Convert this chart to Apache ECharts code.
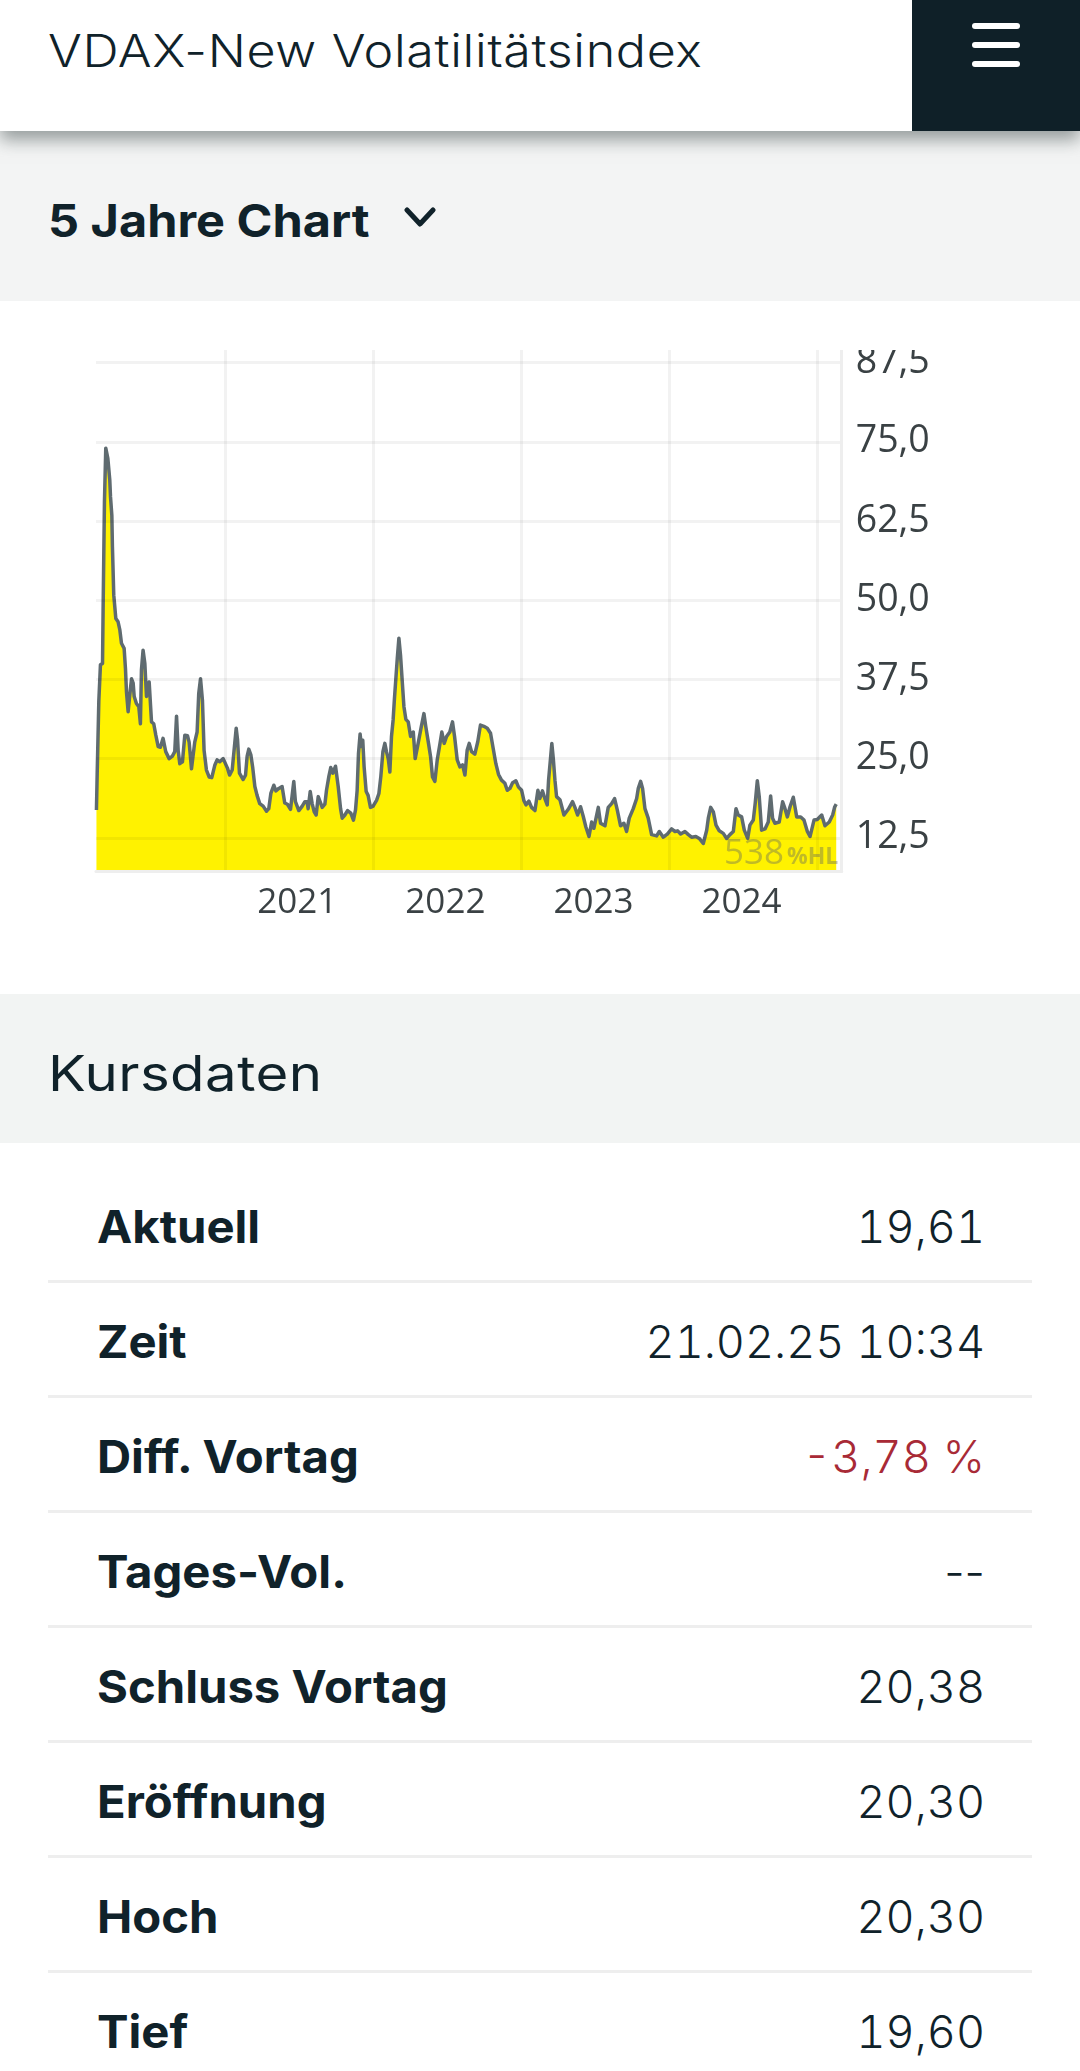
<!DOCTYPE html>
<html lang="de">
<head>
<meta charset="utf-8">
<title>VDAX-New Volatilitätsindex</title>
<script src="https://cdn.jsdelivr.net/npm/echarts@6/dist/echarts.min.js"></script>
<style>
html,body{margin:0;padding:0;background:#fff;}
body{width:1080px;height:2071px;position:relative;overflow:hidden;font-family:Inter,Lato,"Noto Sans",sans-serif;color:#10222a;}
.abs{position:absolute;white-space:nowrap;line-height:1;}
.sl{transform-origin:0 50%;}
#head{position:absolute;left:0;top:0;width:1080px;height:131px;background:#fff;z-index:3;box-shadow:0 9px 16px rgba(90,100,100,.6);}
#burger{position:absolute;left:912px;top:0;width:168px;height:131px;background:#0f2028;z-index:4;}
#burger i{position:absolute;left:60px;width:48px;height:6px;border-radius:3px;background:#fff;}
#band1{position:absolute;left:0;top:131px;width:1080px;height:170px;background:#f3f4f4;}
#band2{position:absolute;left:0;top:994px;width:1080px;height:149px;background:#f2f4f3;}
#chart{position:absolute;left:0;top:350px;width:1080px;height:600px;}
.sep{position:absolute;left:48px;width:984px;height:3px;background:#eeeeee;}
</style>
</head>
<body>
<div id="head"></div>
<div id="burger"><i style="top:23px"></i><i style="top:42px"></i><i style="top:61px"></i></div>
<div class="abs sl" id="title" style="left:48px;top:28px;font-size:45px;font-weight:300;z-index:5;letter-spacing:.6px;transform:scaleX(1.115)">VDAX-New Volatilitätsindex</div>
<div id="band1"></div>
<div class="abs sl" style="left:48px;top:198px;font-size:45px;font-weight:700;transform:scaleX(1.08)">5 Jahre Chart</div>
<svg class="abs" style="left:404px;top:206px" width="32" height="22" viewBox="0 0 32 22"><path d="M3 4 L16 18 L29 4" fill="none" stroke="#10222a" stroke-width="5" stroke-linecap="round" stroke-linejoin="round"/></svg>
<div id="chart"></div>
<div id="band2"></div>
<div class="abs sl" style="left:48px;top:1049px;font-size:49px;font-weight:400;letter-spacing:.4px;transform:scaleX(1.15)">Kursdaten</div>
<div id="rows"></div>
<script>
var dateYears = [
2020.133,2020.138,2020.149,2020.160,2020.174,2020.178,2020.187,2020.196,2020.210,2020.223,2020.228,2020.237,2020.241,2020.250,2020.264,2020.279,2020.291,2020.302,2020.320,2020.329,2020.336,2020.347,2020.358,2020.370,2020.381,2020.388,2020.403,2020.419,2020.430,2020.437,2020.448,2020.460,2020.471,2020.489,2020.505,2020.520,2020.534,2020.550,2020.565,2020.583,2020.601,2020.624,2020.646,2020.662,2020.674,2020.685,2020.696,2020.714,2020.730,2020.748,2020.759,2020.775,2020.797,2020.813,2020.824,2020.836,2020.849,2020.860,2020.876,2020.894,2020.912,2020.933,2020.948,2020.966,2020.989,
2021.000,2021.018,2021.032,2021.050,2021.063,2021.077,2021.086,2021.099,2021.124,2021.140,2021.151,2021.162,2021.176,2021.189,2021.203,2021.218,2021.236,2021.259,2021.282,2021.297,2021.311,2021.331,2021.345,2021.365,2021.387,2021.405,2021.423,2021.444,2021.455,2021.466,2021.477,2021.500,2021.523,2021.541,2021.556,2021.563,2021.577,2021.590,2021.604,2021.617,2021.631,2021.644,2021.658,2021.676,2021.687,2021.703,2021.716,2021.730,2021.748,2021.766,2021.782,2021.793,2021.811,2021.829,2021.851,2021.869,2021.883,2021.894,2021.903,2021.914,2021.923,2021.932,2021.941,2021.955,2021.968,2021.984,
2022.002,2022.025,2022.041,2022.054,2022.068,2022.081,2022.092,2022.104,2022.115,2022.126,2022.137,2022.146,2022.165,2022.176,2022.187,2022.198,2022.210,2022.223,2022.239,2022.255,2022.273,2022.286,2022.306,2022.327,2022.345,2022.358,2022.376,2022.390,2022.403,2022.419,2022.435,2022.453,2022.466,2022.482,2022.498,2022.520,2022.538,2022.552,2022.570,2022.588,2022.606,2022.622,2022.637,2022.651,2022.667,2022.689,2022.709,2022.727,2022.750,2022.773,2022.795,2022.813,2022.831,2022.849,2022.869,2022.892,2022.908,2022.926,2022.944,2022.966,2022.984,
2023.005,2023.020,2023.034,2023.054,2023.072,2023.095,2023.115,2023.128,2023.146,2023.162,2023.178,2023.187,2023.200,2023.209,2023.219,2023.230,2023.241,2023.264,2023.291,2023.320,2023.349,2023.365,2023.383,2023.403,2023.421,2023.439,2023.460,2023.478,2023.493,2023.523,2023.538,2023.568,2023.590,2023.613,2023.633,2023.651,2023.673,2023.696,2023.714,2023.732,2023.759,2023.782,2023.793,2023.809,2023.822,2023.838,2023.860,2023.883,2023.917,2023.935,2023.962,2023.989,
2024.018,2024.041,2024.059,2024.079,2024.108,2024.131,2024.153,2024.182,2024.205,2024.232,2024.255,2024.266,2024.282,2024.300,2024.318,2024.340,2024.367,2024.390,2024.412,2024.435,2024.453,2024.468,2024.491,2024.509,2024.532,2024.547,2024.570,2024.583,2024.597,2024.610,2024.626,2024.649,2024.671,2024.687,2024.700,2024.716,2024.745,2024.768,2024.784,2024.800,2024.818,2024.840,2024.863,2024.890,2024.912,2024.935,2024.953,2024.980,
2025.002,2025.032,2025.054,2025.083,2025.106,2025.120,2025.130];
var vdaxValues = [
16.9,22.6,34,39.8,40,48.4,65.4,74,72.4,69,66.3,63.4,58.4,50.8,47.1,46.6,45.3,43.2,42.4,39.2,35.5,32.4,35,37.6,36.9,34.8,33.7,33.2,30.5,39,42.1,40,34.8,37.1,30.8,30.5,28.7,26.9,26.8,28.2,26.1,25,25.4,26.1,31.7,26.3,24.2,24.5,28.7,28.6,27.6,23.4,27.6,29.2,35.3,37.6,34.2,26.3,23.2,22.1,22,24,24.8,24.5,25,
24.8,23.5,22.4,23.2,23,29.8,28,22.7,21.7,22.4,25.4,26.5,25.6,23.5,20.6,19.2,17.9,17.5,16.7,17.1,19.5,20.8,19.9,20.3,20.6,18,17.8,17,19.2,21.4,18.2,16.8,17.5,18.2,18.2,17.1,19.8,17.9,16.6,16.1,19,19,17.3,17.8,20,22.2,23.6,22.7,23.8,20.6,17.1,15.6,16.1,16.8,16.4,15.3,16.9,20,25.8,28.9,26.9,27.9,23.7,19.8,19.2,17.3,
17.5,18.4,19.5,22.2,26.1,27.4,26.1,25,22.9,28.5,31.1,34.5,40.8,44,41.3,37.4,33.2,31.2,30.8,28.5,29.2,25,27.4,30,32.1,30,27.4,25.3,22.1,21.4,24.8,27.3,29.2,27.4,28.5,29.2,30.8,28.5,24.8,23.7,24,22.4,26.3,27.4,26.1,25.7,27.7,30.3,30.1,29.8,29,26.6,24.2,22.5,21.6,21.1,20,20.3,21.2,21.5,20.5,
20,18.4,17.7,18.3,17.3,16.8,20,18.7,19.9,18.7,17.7,21.6,25,27.4,25,21.6,19,18.5,16.1,17,18.2,17.3,16.1,17.4,15.9,14.2,12.7,15,14,17.3,14.8,14.4,17.3,17.9,18.7,16.9,14.4,14.8,13.5,15.6,17.1,18.7,20.3,21.4,20.3,17.1,15.6,13,12.8,13.5,12.6,13.1,
13.9,13.5,13.6,13.1,13.5,13,12.6,12.7,12.4,11.6,13.7,15.6,17.3,16.6,14.5,13.6,13.2,12.4,13,13.5,17.1,16.1,15.8,13.7,12.4,14.5,15.3,18,21.5,19,13.7,13.9,15,19.1,15.6,14.8,15,18.2,17.1,15.8,17.4,18.9,15.8,15.8,15.3,13.5,12.7,15.3,
15.4,16.1,14.4,15,16.1,17.4,17.8];
var yearStarts = [2021,2022,2023,2024,2025];
var yearLabels = [2021,2022,2023,2024];
var priceTicks = [12.5,25,37.5,50,62.5,75,87.5];
var rowLabels = ["Aktuell","Zeit","Diff. Vortag","Tages-Vol.","Schluss Vortag","Eröffnung","Hoch","Tief"];
var rowValues = ["19,61","21.02.25 10:34","-3,78 %","--","20,38","20,30","20,30","19,60"];
var watermarkNumber = "538";
var watermarkUnit = "%HL";

var rows = document.getElementById('rows');
rowLabels.forEach(function(label, i){
  var top = 1243 + i * 115 - 39;
  var l = document.createElement('div');
  l.className = 'abs sl'; l.style.cssText = 'left:97px;top:'+top+'px;font-size:45px;font-weight:700;transform:scaleX(1.05)';
  l.textContent = label; rows.appendChild(l);
  var val = rowValues[i];
  var v = document.createElement('div');
  v.className = 'abs';
  v.style.cssText = 'right:95px;top:'+top+'px;font-size:45px;font-weight:300;'
    + 'font-feature-settings:"tnum" '+(val==='--'?0:1)+';color:'+(val.charAt(0)==='-'&&val!=='--'?'#a82a36':'#10222a');
  v.textContent = val; rows.appendChild(v);
  if(i < rowLabels.length - 1){
    var s = document.createElement('div');
    s.className = 'sep'; s.style.top = (1280 + i * 115) + 'px'; rows.appendChild(s);
  }
});

var chart = echarts.init(document.getElementById('chart'), null, {renderer:'canvas'});
var gridColor = 'rgba(0,0,0,0.05)';
chart.setOption({
  animation:false,
  grid:{left:96,top:0,width:745.7,height:521.2,outerBoundsMode:'none'},
  xAxis:{
    type:'value', min:2020.13, max:2025.167, z:3,
    axisLine:{show:true,lineStyle:{color:'#eeeeee',width:3}},
    axisTick:{show:false,customValues:yearStarts},
    splitLine:{show:true,lineStyle:{color:gridColor,width:3}},
    axisLabel:{
      customValues:yearLabels.map(function(y){return y + 0.49;}),
      formatter:function(v){return String(Math.floor(v));},
      fontFamily:'Open Sans',fontSize:35,color:'#3a4144',margin:14
    }
  },
  yAxis:{
    type:'value', position:'right', min:7.23, max:89.49, z:3,
    axisLine:{show:true,lineStyle:{color:'#eeeeee',width:3}},
    axisTick:{show:false,customValues:priceTicks},
    splitLine:{show:true,lineStyle:{color:gridColor,width:3}},
    axisLabel:{
      customValues:priceTicks,
      formatter:function(v){return v.toFixed(1).replace('.',',');},
      fontFamily:'Open Sans',fontSize:37.5,color:'#3a4144',margin:14,padding:[0,0,6,0]
    }
  },
  series:[{
    type:'line', showSymbol:false, symbol:'none', z:2,
    data:dateYears.map(function(y,i){return [y,vdaxValues[i]];}),
    lineStyle:{color:'#5f6b70',width:3.5,join:'round'},
    areaStyle:{color:'#fff200',opacity:1,origin:'start'}
  }],
  graphic:[
    {type:'text',z:10,left:724,top:487,style:{text:watermarkNumber,fontFamily:'Open Sans',fontSize:35,fill:'rgba(90,95,100,0.38)'}},
    {type:'text',z:10,left:787,top:496,style:{text:watermarkUnit,fontFamily:'Open Sans',fontWeight:700,fontSize:23,fill:'rgba(90,95,100,0.38)'}}
  ]
});
</script>
</body>
</html>
